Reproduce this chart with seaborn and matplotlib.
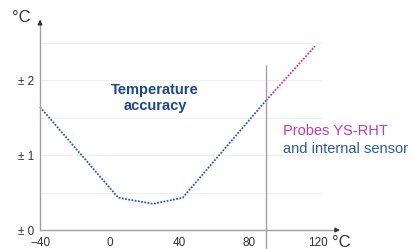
import numpy as np
import pandas as pd
import matplotlib
matplotlib.use("Agg")
import matplotlib.pyplot as plt
import seaborn as sns

# accuracy curve
temp_base = [-40, 5, 25, 42, 90]
acc_base = [1.64, 0.43, 0.35, 0.43, 1.73]
temp_probe = [90, 118]
acc_probe = [1.73, 2.45]

x_major = [-40, 0, 40, 80, 120]
x_minor = [-30, -20, -10, 10, 20, 30, 50, 60, 70, 90, 100, 110]
y_major = [0, 1, 2]
y_labels = ["± 0", "± 1", "± 2"]
y_minor = [0.5, 1.5, 2.5]

blue = "#2a5aa6"
magenta = "#c23aa8"
axis_col = "#a0a0a0"
text_col = "#333333"

sns.set_style("white")
plt.rcParams['font.family'] = ['Liberation Sans', 'DejaVu Sans']

fig = plt.figure(figsize=(4.12, 2.49), dpi=100)
ax = fig.add_axes([0, 0, 1, 1])
ax.set_xlim(-63, 173.8)
ax.set_ylim(-0.253, 3.067)

# faint grid
ax.hlines(y_minor + [1, 2], -40, 122, color="#efefef", lw=0.8, zorder=0)

base_df = pd.DataFrame({"t": temp_base, "a": acc_base})
probe_df = pd.DataFrame({"t": temp_probe, "a": acc_probe})
sns.lineplot(data=base_df, x="t", y="a", ax=ax, color=blue, lw=1.3,
             linestyle=(0, (1, 0.8)), sort=False)
sns.lineplot(data=probe_df, x="t", y="a", ax=ax, color=magenta, lw=1.3,
             linestyle=(0, (1, 0.8)), sort=False)

# vertical limit line
ax.vlines(90, -0.3, 2.2, color=axis_col, lw=1.0)

# axes through the origin
for s in ["top", "right"]:
    ax.spines[s].set_visible(False)
ax.spines["left"].set_position(("data", -40))
ax.spines["bottom"].set_position(("data", 0))
ax.spines["left"].set_bounds(0, 2.8)
ax.spines["bottom"].set_bounds(-40, 131)
for s in ["left", "bottom"]:
    ax.spines[s].set_color(axis_col)
    ax.spines[s].set_linewidth(1.0)

ax.annotate("", xy=(-40, 2.84), xytext=(-40, 2.7),
            arrowprops=dict(arrowstyle="-|>", color="#333333", lw=0.8,
                            mutation_scale=7))
ax.annotate("", xy=(134, 0), xytext=(128, 0),
            arrowprops=dict(arrowstyle="-|>", color="#333333", lw=0.8,
                            mutation_scale=7))

ax.set_xticks(x_major)
ax.set_xticks(x_minor, minor=True)
ax.set_yticks(y_major)
ax.set_yticklabels(y_labels)
ax.set_yticks(y_minor, minor=True)
ax.tick_params(axis="both", which="both", direction="inout", color=axis_col,
               width=1.0, labelcolor=text_col, labelsize=8.5)
ax.tick_params(axis="x", which="both", length=9, pad=0.5)
ax.tick_params(axis="y", which="both", length=7, pad=1)
ax.set_xlabel("")
ax.set_ylabel("")

ax.text(-56, 2.83, "°C", fontsize=12, color=text_col, ha="left", va="center")
ax.text(128, -0.17, "°C", fontsize=12, color=text_col, ha="left", va="center")

ax.text(26, 1.76, "Temperature\naccuracy", fontsize=10.5, fontweight="bold",
        color="#1b4688", ha="center", va="center", linespacing=1.15)
ax.text(99.5, 1.32, "Probes YS-RHT", fontsize=10.5, color=magenta,
        ha="left", va="center")
ax.text(99.5, 1.08, "and internal sensor", fontsize=10.5, color=blue,
        ha="left", va="center")

fig.savefig("out.png", dpi=100)
